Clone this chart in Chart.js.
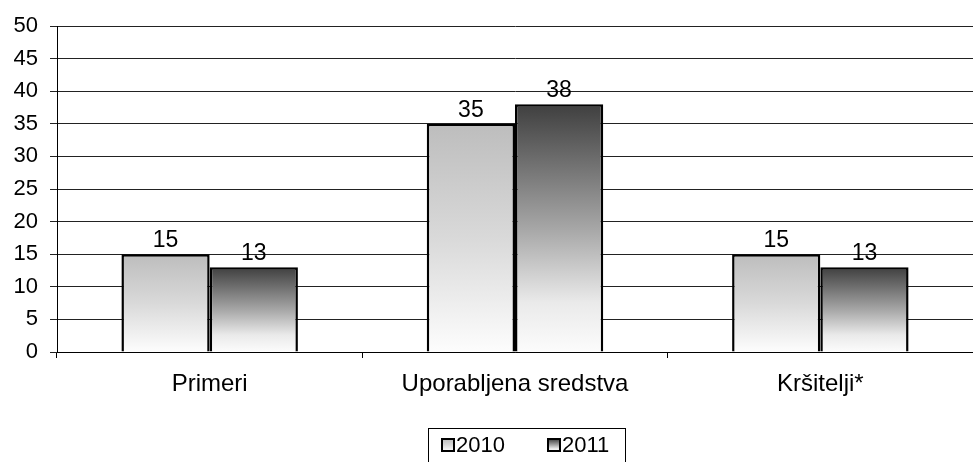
<!DOCTYPE html>
<html lang="sl">

<head>
    <meta charset="utf-8">
    <title>Primeri 2010 - 2011</title>
    <script src="https://cdn.jsdelivr.net/npm/chart.js@4.4.0/dist/chart.umd.min.js"></script>
    <style>
        html, body { margin: 0; padding: 0; background: #ffffff; }
        #wrap { width: 973px; height: 462px; }
    </style>
</head>

<body>
    <div id="wrap">
        <canvas id="myChart" width="973" height="462"></canvas>
    </div>

    <script>
        // podatki
        const categories = ['Primeri', 'Uporabljena sredstva', 'Kršitelji*']
        const series2010 = [15, 35, 15]
        const series2011 = [13, 38, 13]
        const seriesNames = ['2010', '2011']
        const yTicks = [0, 5, 10, 15, 20, 25, 30, 35, 40, 45, 50]

        const FAMILY = '"Liberation Sans", Arial, sans-serif'
        const tickFont = { family: FAMILY, size: 22 }
        const catFont = { family: FAMILY, size: 24 }

        // gradient stops per series (top -> bottom of each bar)
        const gradStops = [
            [[0, '#bdbdbd'], [0.5, '#d9d9d9'], [1, '#fdfdfd']],
            [[0, '#3f3f3f'], [0.5, '#a6a6a6'], [0.8, '#eaeaea'], [1, '#fcfcfc']]
        ]

        function barGradient(stops, fallback) {
            return function (ctx) {
                const chart = ctx.chart
                if (ctx.type !== 'data' || !chart.chartArea) return fallback
                const y = chart.scales.y
                const top = y.getPixelForValue(ctx.raw)
                const base = y.getPixelForValue(0)
                const g = chart.ctx.createLinearGradient(0, top, 0, base)
                for (const s of stops) g.addColorStop(s[0], s[1])
                return g
            }
        }

        // vrednosti nad stolpci
        const valueLabels = {
            id: 'valueLabels',
            afterDatasetsDraw(chart) {
                const ctx = chart.ctx
                ctx.save()
                ctx.font = '23px ' + FAMILY
                ctx.fillStyle = '#000'
                ctx.textAlign = 'center'
                ctx.textBaseline = 'bottom'
                chart.data.datasets.forEach((ds, i) => {
                    chart.getDatasetMeta(i).data.forEach((bar, j) => {
                        ctx.fillText(String(ds.data[j]), bar.x, bar.y - 2)
                    })
                })
                ctx.restore()
            }
        }

        // legenda z okvirjem (spodaj, odrezana)
        const boxedLegend = {
            id: 'boxedLegend',
            afterDraw(chart) {
                const ctx = chart.ctx
                const left = 428.5
                const top = 428.5
                ctx.save()
                ctx.strokeStyle = '#000'
                ctx.lineWidth = 1
                ctx.strokeRect(left, top, 197, 50)
                ctx.font = '22px ' + FAMILY
                ctx.textBaseline = 'middle'
                ctx.textAlign = 'left'
                let x = left + 13.5
                const cy = 445
                seriesNames.forEach((name, i) => {
                    const g = ctx.createLinearGradient(0, cy - 6, 0, cy + 6)
                    for (const s of gradStops[i]) g.addColorStop(s[0], s[1])
                    ctx.fillStyle = g
                    ctx.fillRect(x, cy - 6, 12, 12)
                    ctx.lineWidth = 2
                    ctx.strokeRect(x, cy - 6, 12, 12)
                    ctx.fillStyle = '#000'
                    ctx.fillText(name, x + 14, cy + 1)
                    x += 106
                })
                ctx.restore()
            }
        }

        const data = {
            labels: categories,
            datasets: [{
                label: seriesNames[0],
                data: series2010,
                backgroundColor: barGradient(gradStops[0], '#d9d9d9'),
                borderColor: '#000',
                borderWidth: 2.5
            }, {
                label: seriesNames[1],
                data: series2011,
                backgroundColor: barGradient(gradStops[1], '#808080'),
                borderColor: '#000',
                borderWidth: 2.5
            }]
        }

        const config = {
            type: 'bar',
            data: data,
            plugins: [valueLabels, boxedLegend],
            options: {
                responsive: false,
                animation: false,
                categoryPercentage: 0.578,
                barPercentage: 1,
                layout: { padding: { top: 26, right: 0, bottom: 0, left: 0 } },
                plugins: {
                    legend: { display: false },
                    tooltip: { enabled: false }
                },
                scales: {
                    x: {
                        grid: {
                            offset: true,
                            drawOnChartArea: false,
                            color: '#000',
                            tickLength: 6
                        },
                        border: { color: '#000', width: 1 },
                        ticks: { color: '#000', font: catFont, padding: 12, maxRotation: 0 },
                        afterFit(scale) { scale.height = 110 }
                    },
                    y: {
                        min: 0,
                        max: 50,
                        afterBuildTicks(scale) {
                            scale.ticks = yTicks.map(v => ({ value: v }))
                        },
                        grid: { color: '#222', tickLength: 7 },
                        border: { color: '#000', width: 1 },
                        ticks: { color: '#000', font: tickFont, padding: 12 },
                        afterFit(scale) { scale.width = 57 }
                    }
                }
            }
        }

        const myChart = new Chart(document.getElementById('myChart'), config)
    </script>
</body>

</html>
